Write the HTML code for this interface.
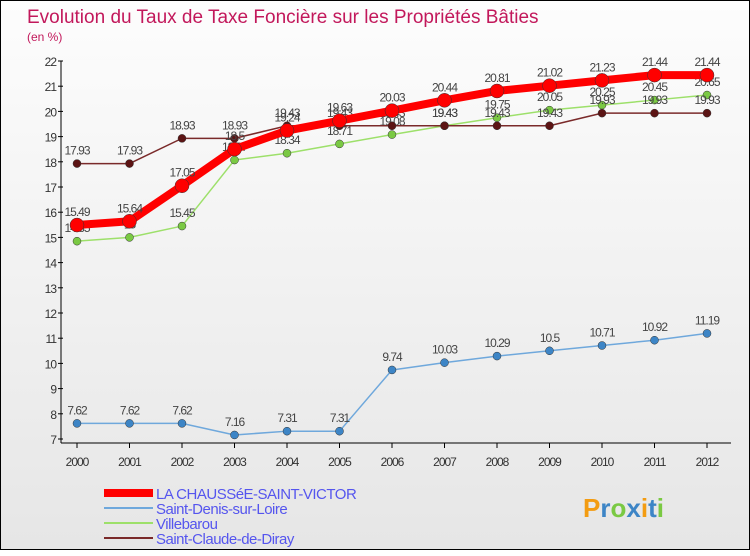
<!DOCTYPE html>
<html><head><meta charset="utf-8"><style>
body{margin:0;width:750px;height:550px;overflow:hidden;font-family:"Liberation Sans",sans-serif}
.frame{position:absolute;left:0;top:0;width:748px;height:548px;border:1px solid #000;background:linear-gradient(#fdfdfd,#e6e6e6)}
</style></head><body>
<div class="frame">
<svg id="c" width="750" height="550"></svg>
</div>
<script>
const years=["2000","2001","2002","2003","2004","2005","2006","2007","2008","2009","2010","2011","2012"];
const laChaussee=[15.49,15.64,17.05,18.5,19.24,19.63,20.03,20.44,20.81,21.02,21.23,21.44,21.44];
const saintDenis=[7.62,7.62,7.62,7.16,7.31,7.31,9.74,10.03,10.29,10.5,10.71,10.92,11.19];
const villebarou=[14.85,15,15.45,18.07,18.34,18.71,19.08,19.43,19.75,20.05,20.25,20.45,20.65];
const saintClaude=[17.93,17.93,18.93,18.93,19.43,19.43,19.43,19.43,19.43,19.43,19.93,19.93,19.93];
const yTicks=[7,8,9,10,11,12,13,14,15,16,17,18,19,20,21,22];
const NS="http://www.w3.org/2000/svg";
const svg=document.getElementById('c');
const X=i=>76+i*52.5;
const Y=v=>60+(22-v)*25.2;
function mk(t,a,p){const e=document.createElementNS(NS,t);for(const k in a)e.setAttribute(k,a[k]);(p||svg).appendChild(e);return e;}
let t=mk('text',{x:26,y:22,'font-size':19,fill:'#c2185b'});t.textContent="Evolution du Taux de Taxe Foncière sur les Propriétés Bâties";

t=mk('text',{x:26,y:40,'font-size':12,fill:'#c2185b'});t.textContent="(en %)";

yTicks.forEach(v=>{
 const l=mk('text',{x:55,y:Y(v)+5,'font-size':12,fill:'#333','text-anchor':'end','letter-spacing':'-1'});l.textContent=v;
 
 mk('line',{x1:57,x2:62,y1:Y(v),y2:Y(v),stroke:'#000'});
});
mk('line',{x1:60,x2:60,y1:Y(22),y2:442,stroke:'#000'});
mk('line',{x1:60,x2:730,y1:442,y2:442,stroke:'#000'});
years.forEach((y,i)=>{
 mk('line',{x1:X(i),x2:X(i),y1:442,y2:447,stroke:'#000'});
 const l=mk('text',{x:X(i),y:465,'font-size':12,fill:'#333','text-anchor':'middle','letter-spacing':'-1'});l.textContent=y;
 
});
function series(vals,color,w,r,ptColor,name){
 const g=mk('g',{});
 
 mk('polyline',{points:vals.map((v,i)=>X(i)+','+Y(v)).join(' '),fill:'none',stroke:color,'stroke-width':w,'stroke-linejoin':'round'},g);
 vals.forEach((v,i)=>{
  const c=mk('circle',{cx:X(i),cy:Y(v),r:r,fill:ptColor,stroke:'#333','stroke-width':0.5},g);
  
  const l=mk('text',{x:X(i),y:Y(v)-9,'font-size':12,fill:'#444','text-anchor':'middle','letter-spacing':'-1'},g);l.textContent=v;
  
 });
}
series(saintDenis,'#6fa8dc',1.5,4,'#3d85c6','series-saint-denis');
series(villebarou,'#9de06a',1.5,4,'#7ac943','series-villebarou');
series(saintClaude,'#7a2a2a',1.5,4,'#5c1414','series-saint-claude');
series(laChaussee,'#ff0000',8,7,'#ff0000','series-la-chaussee');
const leg=[["LA CHAUSSéE-SAINT-VICTOR",'#ff0000',8],["Saint-Denis-sur-Loire",'#6fa8dc',2],["Villebarou",'#9de06a',2],["Saint-Claude-de-Diray",'#7a2a2a',2]];
leg.forEach((d,i)=>{
 const y=492+i*15;
 const g=mk('g',{});
 mk('line',{x1:103,x2:152,y1:y,y2:y,stroke:d[1],'stroke-width':d[2]},g);
 const l=mk('text',{x:155,y:y+6,'font-size':15,fill:'#5555ee','letter-spacing':'-0.5'},g);l.textContent=d[0];
});
t=mk('text',{x:582,y:516,'font-size':26,'font-weight':'bold',fill:'#3d85c6'});
t.innerHTML='<tspan fill="#f39c12">P</tspan>r<tspan fill="#7ac943">o</tspan>x<tspan fill="#f39c12">i</tspan>t<tspan fill="#7ac943">i</tspan>';

</script>
</body></html>
